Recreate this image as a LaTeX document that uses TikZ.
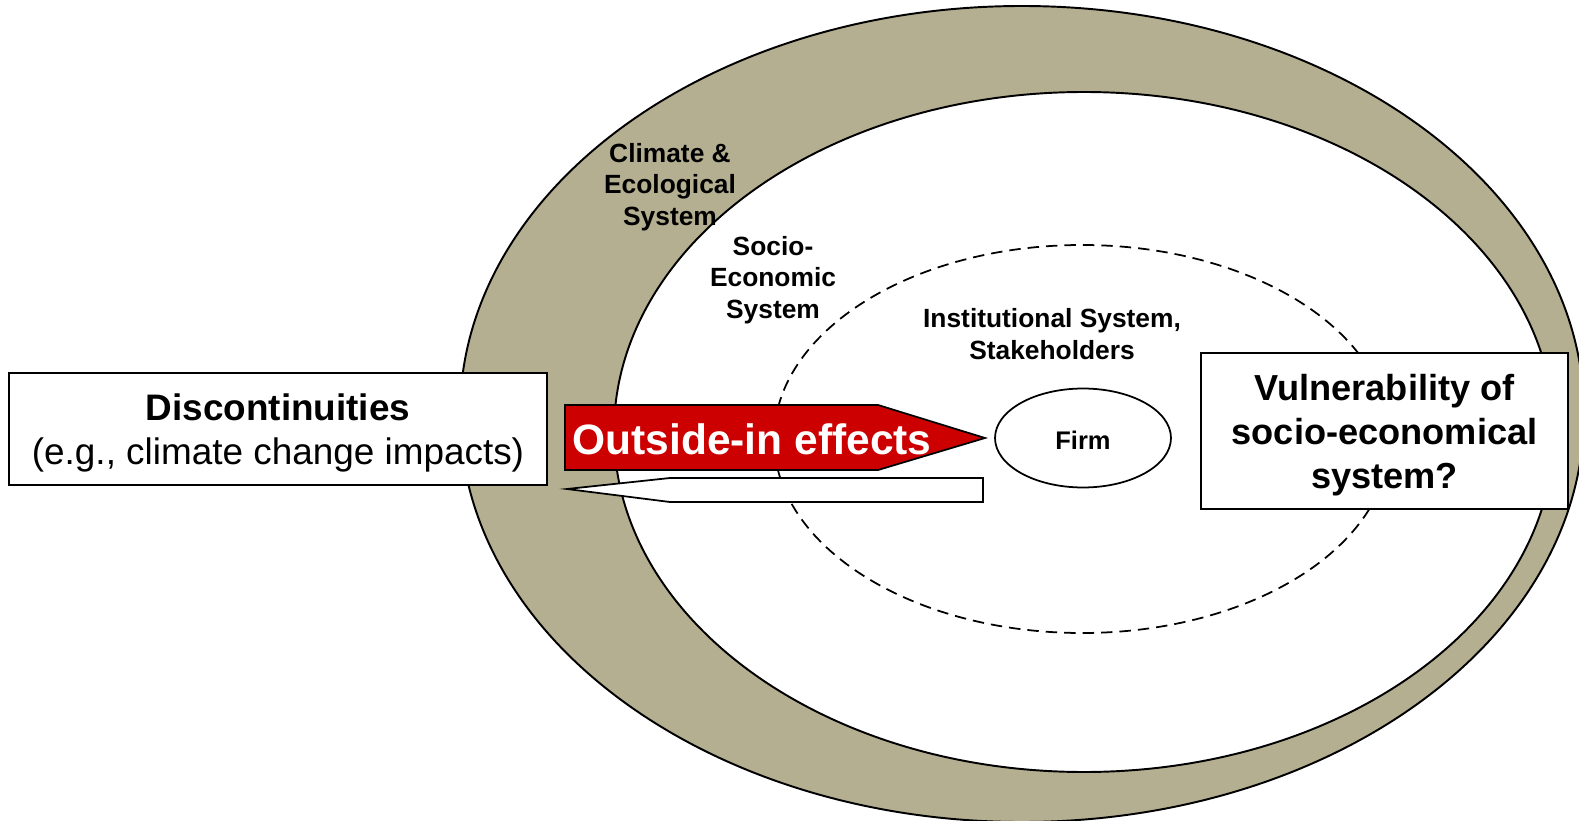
\documentclass[tikz,border=0pt]{standalone}
\usepackage{fontspec}
\setmainfont{Liberation Sans}
\usetikzlibrary{positioning,shapes.geometric}
\definecolor{tierra}{RGB}{181,175,145}
\definecolor{rojo}{RGB}{204,0,0}
\tikzset{
  caja/.style={draw, line width=1.3pt, fill=white, align=center, inner sep=0pt},
  etiqueta/.style={font=\fontsize{15}{18}\selectfont\bfseries, align=center, inner sep=0pt},
  flecha/.style={draw, line width=1pt, line join=miter},
}
\begin{document}
\begin{tikzpicture}[x=0.02cm, y=-0.02cm]
    \useasboundingbox (0,0) rectangle (1579,821);
    \clip (0,0) rectangle (1579,821);

    % Sistemas (elipses)
    \draw[fill=tierra, line width=1.1pt] (1022,414) ellipse (562 and 408);
    \draw[fill=white, line width=1.1pt] (1084,432) ellipse (470 and 340);
    \draw[dash pattern=on 6.5pt off 4pt, line width=1pt] (1082,439) ellipse (308 and 194);

    % Etiquetas de los sistemas
    \node[etiqueta] (clima) at (670,187) {Climate \&\\Ecological\\System};
    \node[etiqueta] (socio) at (773,280) {Socio-\\Economic\\System};
    \node[etiqueta] (institucional) at (1052,334) {Institutional System,\\Stakeholders};

    % Empresa
    \node[draw, ellipse, line width=1pt, minimum width=3.52cm, minimum height=1.98cm,
          font=\fontsize{14.5}{17}\selectfont\bfseries] (firma) at (1083,438) {};
    \node[font=\fontsize{14.5}{17}\selectfont\bfseries, inner sep=0pt] at ([yshift=-2.5*0.02cm]firma.center) {Firm};

    % Flechas
    \coordinate (punta) at (985,438);
    \coordinate (cola) at (567,489);
    \draw[flecha, fill=rojo] (565,405) -- (878,405) -- (punta) -- (878,470) -- (565,470) -- cycle;
    \draw[flecha, fill=white] (cola) -- (670,478) -- (983,478) -- (983,502) -- (670,502) -- cycle;
    \node[text=white, font=\fontsize{24.2}{28}\selectfont\bfseries, inner sep=0pt] (efecto) at (752,439) {Outside-in effects};

    % Cajas de texto
    \node[caja, minimum width=10.76cm, minimum height=2.24cm] (discont) at (278,429) {};
    \node[align=center, inner sep=0pt, font=\fontsize{21}{25.5}\selectfont] at (278,433)
          {\textbf{Discontinuities}\\(e.g., climate change impacts)};
    \node[caja, minimum width=7.34cm, minimum height=3.12cm] (vulner) at (1384.5,431) {};
    \node[align=center, inner sep=0pt, font=\fontsize{20.6}{25.2}\selectfont\bfseries] at (1384.5,435)
          {Vulnerability of\\socio-economical\\system?};
\end{tikzpicture}
\end{document}
